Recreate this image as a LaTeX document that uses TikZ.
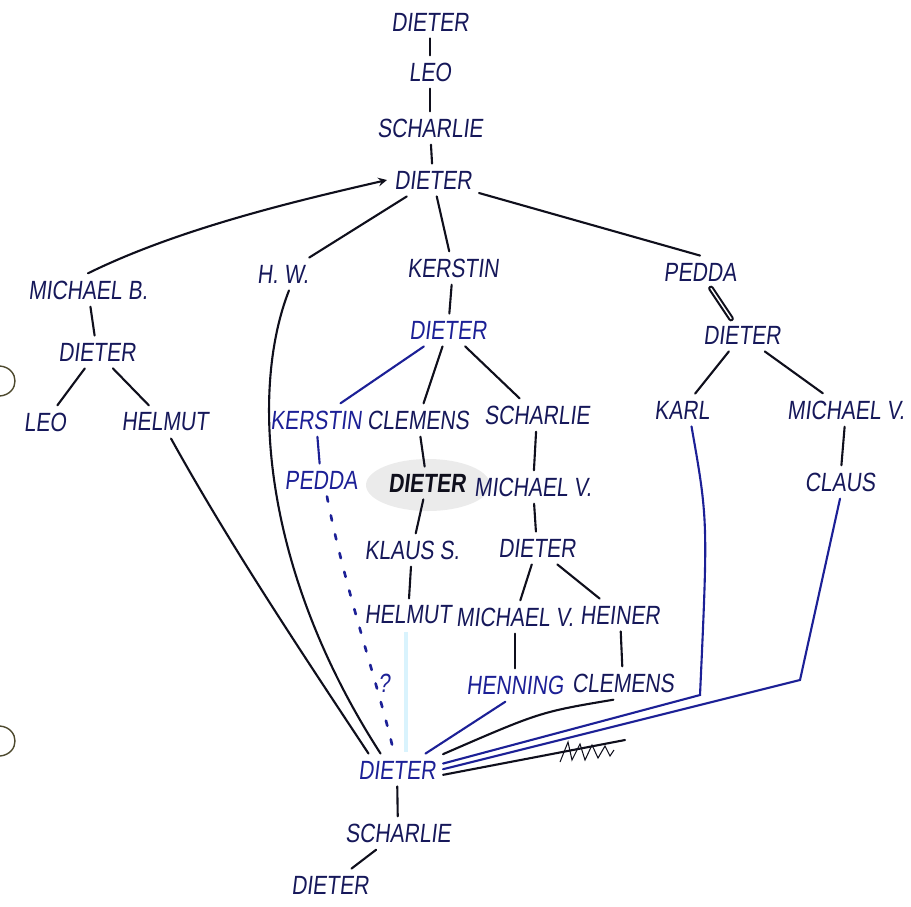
\documentclass[tikz,border=0pt]{standalone}
\usepackage{fontspec}
\usepackage{tikz}
\usetikzlibrary{positioning}
\usetikzlibrary{arrows,shapes}
\usetikzlibrary{calc}

\newfontfamily\handfont[FakeStretch=0.8,FakeSlant=0.12]{Liberation Sans}
\newcommand\personfont{\handfont\fontsize{15}{17}\selectfont}

\definecolor{ink}{RGB}{22,24,90}
\definecolor{blueink}{RGB}{28,32,150}
\definecolor{blackink}{RGB}{15,15,28}

\tikzset{
  person/.style={font=\personfont, text=ink, inner sep=4pt},
  blueperson/.style={person, text=blueink},
  boldperson/.style={person, text=blackink, font=\personfont\bfseries},
  link/.style={blackink, line width=1.2pt, line cap=round},
  bluelink/.style={blueink, line width=1.2pt, line cap=round},
}

\begin{document}
\begin{tikzpicture}[x=0.02cm, y=-0.02cm]
 \useasboundingbox (0,0) rectangle (911,906);

 %smudge and eraser marks
 \fill[gray!16] (428,485) ellipse (62 and 26);
 \draw[cyan!15, line width=2pt] (406,632) -- (406,752);

 %punch holes
 \draw[olive!40!black, thick] (0,366) .. controls (20,368) and (20,394) .. (0,396);
 \draw[olive!40!black, thick] (0,726) .. controls (20,728) and (20,754) .. (0,756);

 %level 1
 \foreach \name/\x/\y/\txt in {t1/430/22/DIETER, t2/430/72/LEO, t3/430/128/SCHARLIE, t4/433/180/DIETER} {
         \node[person] (\name) at (\x,\y) {\txt};
 }
 \draw[link] (t1) -- (t2);
 \draw[link] (t2) -- (t3);
 \draw[link] (t3) -- (t4);

 %level 2
 \foreach \name/\x/\y/\txt in {mb/88/290/MICHAEL B., hw/283/274/H. W., ke/453/268/KERSTIN, pe/700/272/PEDDA} {
         \node[person] (\name) at (\x,\y) {\txt};
 }
 \draw[link, -stealth] (mb.north) .. controls (180,228) and (300,200) .. (t4.west);
 \draw[link] (t4) -- (hw);
 \draw[link] (t4) -- (ke);
 \draw[link] (t4) -- (pe.north);

 %level 3
 \node[person] (dmb) at (97,352) {DIETER};
 \node[blueperson] (dke) at (448,330) {DIETER};
 \node[person] (dpe) at (742,335) {DIETER};
 \draw[link] (mb) -- (dmb);
 \draw[link] (ke) -- (dke);
 \draw[link, double, double distance=0.8pt] (pe) -- (dpe);

 %level 4
 \foreach \name/\x/\y/\txt in {leo/45/422/LEO, hel/165/422/HELMUT, cle/418/420/CLEMENS, sch/537/415/SCHARLIE, kar/682/410/KARL, mv/846/410/MICHAEL V.} {
         \node[person] (\name) at (\x,\y) {\txt};
 }
 \node[blueperson] (ker) at (316,420) {KERSTIN};
 \draw[link] (dmb) -- (leo);
 \draw[link] (dmb) -- (hel);
 \draw[bluelink] (dke) -- (ker);
 \draw[link] (dke) -- (cle);
 \draw[link] (dke) -- (sch);
 \draw[link] (dpe) -- (kar);
 \draw[link] (dpe) -- (mv);

 %level 5
 \node[blueperson] (ped) at (321,480) {PEDDA};
 \node[boldperson] (dbo) at (427,483) {DIETER};
 \node[person] (mv2) at (533,487) {MICHAEL V.};
 \node[person] (cla) at (840,482) {CLAUS};
 \draw[bluelink] (ker) -- (ped);
 \draw[link] (cle) -- (dbo);
 \draw[link] (sch) -- (mv2);
 \draw[link] (mv) -- (cla);

 %level 6
 \node[person] (kls) at (412,550) {KLAUS S.};
 \node[person] (dsc) at (537,548) {DIETER};
 \draw[link] (dbo) -- (kls);
 \draw[link] (mv2) -- (dsc);

 %level 7
 \foreach \name/\x/\y/\txt in {hel2/408/615/HELMUT, mv3/515/617/MICHAEL V., hei/620/615/HEINER} {
         \node[person] (\name) at (\x,\y) {\txt};
 }
 \draw[link] (kls) -- (hel2);
 \draw[link] (dsc) -- (mv3);
 \draw[link] (dsc) -- (hei);

 %level 8
 \node[blueperson] (hen) at (515,685) {HENNING};
 \node[person] (cle2) at (623,683) {CLEMENS};
 \draw[link] (mv3) -- (hen);
 \draw[link] (hei) -- (cle2);

 %bottom
 \node[blueperson] (db) at (397,770) {DIETER};
 \node[person] (sb) at (398,833) {SCHARLIE};
 \node[person] (de) at (330,885) {DIETER};
 \draw[link] (db) -- (sb);
 \draw[link] (sb) -- (de);

 %long lines
 \draw[link] (hel.-70) .. controls (230,545) and (300,650) .. (db.150);
 \draw[link] (hw.-70) .. controls (250,390) and (262,570) .. (db.135);
 \draw[bluelink, line width=1.5pt, dash pattern=on 3pt off 8pt] (ped.-70) .. controls (345,590) and (380,690) .. (db.100);
 \node[blueperson] (qm) at (384,683) {?};
 \draw[bluelink] (hen.-120) -- (db.30);
 \draw[link] (cle2.-120) .. controls (540,712) .. (db.19);
 \coordinate (kb) at (700,695);
 \draw[bluelink] (kar.-60) .. controls (708,520) .. (kb) -- (db.8);
 \coordinate (cb) at (800,680);
 \draw[bluelink] (cla.south) -- (cb) -- (db.1);
 \coordinate (xend) at (625,740);
 \draw[link] (db.-6) -- (xend);

 %crossed out
 \draw[blackink, semithick] (560,762) -- (568,742) -- (572,760) -- (580,744) -- (585,760) -- (592,745) -- (598,758) -- (605,746) -- (610,756) -- (614,750);

\end{tikzpicture}
\end{document}
